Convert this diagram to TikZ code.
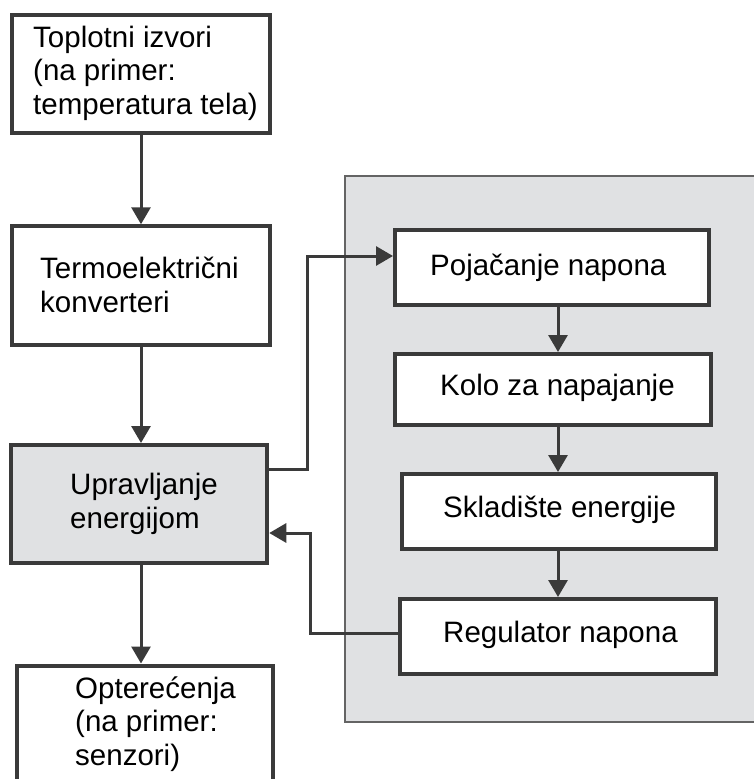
\documentclass[tikz,border=0pt]{standalone}
\usepackage{fontspec}
\setmainfont{Liberation Sans}
\usetikzlibrary{arrows.meta}
\definecolor{lineC}{RGB}{58,58,58}
\definecolor{panelF}{RGB}{224,225,227}
\definecolor{panelD}{RGB}{100,100,100}
\begin{document}
\begin{tikzpicture}[x=1pt,y=-1pt,
  box/.style={draw=lineC,line width=4pt,fill=white,inner sep=0pt,rectangle},
  txt/.style={font=\fontsize{29.5}{33.5}\selectfont,inner sep=0pt,anchor=base west,align=left,text=black},
  arr/.style={draw=lineC,line width=3pt,-{Triangle[length=17pt,width=19pt]}}]
\useasboundingbox (0,0) rectangle (753,779);
% panel
\draw[draw=panelD,line width=2pt,fill=panelF] (345,176) rectangle (775,722);
% left column
\node[box,minimum width=258pt,minimum height=118pt] (b1) at (141,74) {};
\node[box,minimum width=258.5pt,minimum height=118.5pt] (b2) at (141,285.5) {};
\node[box,fill=panelF,minimum width=256.5pt,minimum height=118pt] (b3) at (139,504) {};
\node[box,minimum width=256pt,minimum height=135pt] (b4) at (145,733) {};
% right column
\node[box,minimum width=314pt,minimum height=75pt] (p1) at (552,267.5) {};
\node[box,minimum width=316pt,minimum height=71pt] (p2) at (553,389.5) {};
\node[box,minimum width=314pt,minimum height=75pt] (p3) at (559,511.5) {};
\node[box,minimum width=316pt,minimum height=75pt] (p4) at (558,636.5) {};
% texts (anchor = baseline of last line)
\node[txt] (t1) at (33,114) {Toplotni izvori\\(na primer:\\temperatura tela)};
\node[txt] (t2) at (40,312) {Termoelektrični\\konverteri};
\node[txt] (t3) at (70,528) {Upravljanje\\energijom};
\node[txt] (t4) at (75,765) {Opterećenja\\(na primer:\\senzori)};
\node[txt] (tp1) at (430,275) {Pojačanje napona};
\node[txt] (tp2) at (440,395) {Kolo za napajanje};
\node[txt] (tp3) at (443,517) {Skladište energije};
\node[txt] (tp4) at (443,642) {Regulator napona};
% connectors
\draw[arr] (b1.south) -- (b1.south |- b2.north);
\draw[arr] (b2.south) -- (b2.south |- b3.north);
\draw[arr] (b2.south |- b3.south) -- (b2.south |- b4.north);
\coordinate (col) at (558,0);
\draw[arr] (p1.south -| col) -- (p2.north -| col);
\draw[arr] (p2.south -| col) -- (p3.north -| col);
\draw[arr] (p3.south -| col) -- (p4.north -| col);
\coordinate (k1) at (307,469);
\coordinate (k2) at (307,256);
\draw[arr] (b3.east |- k1) -- (k1) -- (k2) -- (p1.west |- k2);
\coordinate (r1) at (310,633);
\coordinate (r2) at (310,533);
\draw[arr] (p4.west |- r1) -- (r1) -- (r2) -- (b3.east |- r2);
\end{tikzpicture}
\end{document}
